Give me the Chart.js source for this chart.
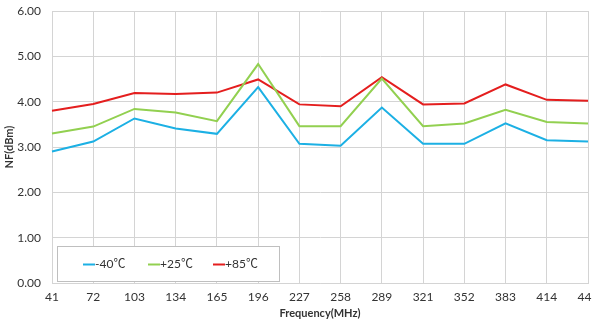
<!DOCTYPE html>
<html>
<head>
<meta charset="utf-8">
<script src="https://cdn.jsdelivr.net/npm/chart.js@4/dist/chart.umd.min.js"></script>
<style>
  html, body { margin: 0; padding: 0; background: #ffffff; }
  #wrap { width: 592px; height: 320px; position: relative; }
</style>
</head>
<body>
<div id="wrap"><canvas id="nf"></canvas></div>
<script>
// Frequency points (MHz)
const frequencies = ['41', '72', '103', '134', '165', '196', '227', '258', '289', '321', '352', '383', '414', '445'];

// Noise figure per temperature
const nfMinus40 = [2.90, 3.12, 3.63, 3.41, 3.29, 4.32, 3.07, 3.03, 3.87, 3.07, 3.07, 3.52, 3.15, 3.12];
const nfPlus25  = [3.30, 3.45, 3.84, 3.76, 3.57, 4.83, 3.46, 3.46, 4.51, 3.46, 3.52, 3.82, 3.55, 3.52];
const nfPlus85  = [3.80, 3.95, 4.19, 4.17, 4.20, 4.49, 3.94, 3.90, 4.54, 3.94, 3.96, 4.38, 4.04, 4.02];

const seriesLabels = ['-40\u2103', '+25\u2103', '+85\u2103'];
const seriesColors = ['#1cb0e4', '#92d050', '#e41e1e'];

const FONT = 'Lato, "Liberation Sans", sans-serif';
const LEGEND_FONT = '12px Lato, "Noto Sans CJK SC", sans-serif';
const TEXT = '#333333';

// Boxed legend drawn inside the lower-left corner of the plot area
const boxedLegend = {
  id: 'boxedLegend',
  afterDraw(chart) {
    const ctx = chart.ctx;
    const area = chart.chartArea;
    const x0 = area.left + 5, w = 222;
    const y0 = area.bottom - 37, h = 35;
    ctx.save();
    ctx.fillStyle = '#ffffff';
    ctx.fillRect(x0, y0, w, h);
    ctx.strokeStyle = '#bfbfbf';
    ctx.lineWidth = 1;
    ctx.strokeRect(x0 + 0.5, y0 + 0.5, w, h);
    ctx.font = LEGEND_FONT;
    ctx.textBaseline = 'middle';
    const cy = y0 + h / 2 + 1;
    chart.data.datasets.forEach((ds, i) => {
      const sx = x0 + 26 + i * 65;
      ctx.strokeStyle = ds.borderColor;
      ctx.lineWidth = 2;
      ctx.beginPath();
      ctx.moveTo(sx, cy);
      ctx.lineTo(sx + 12, cy);
      ctx.stroke();
      ctx.fillStyle = TEXT;
      ctx.fillText(ds.label, sx + 12, cy);
    });
    ctx.restore();
  }
};

new Chart(document.getElementById('nf'), {
  type: 'line',
  data: {
    labels: frequencies,
    datasets: [nfMinus40, nfPlus25, nfPlus85].map((vals, i) => ({
      label: seriesLabels[i],
      data: vals,
      borderColor: seriesColors[i],
      backgroundColor: seriesColors[i],
      borderWidth: 2,
      pointRadius: 0,
      tension: 0,
      fill: false
    }))
  },
  options: {
    responsive: true,
    maintainAspectRatio: false,
    animation: false,
    layout: { padding: { top: 11, right: 4, left: 0, bottom: 0 } },
    plugins: {
      legend: { display: false },
      tooltip: { enabled: false }
    },
    scales: {
      x: {
        offset: false,
        grid: { color: '#d4d4d4', drawTicks: false, lineWidth: 1 },
        border: { color: '#d4d4d4' },
        ticks: { color: TEXT, font: { family: FONT, size: 12 }, padding: 7, maxRotation: 0, autoSkip: false },
        title: {
          display: true, text: 'Frequency(MHz)', color: TEXT,
          font: { family: FONT, size: 11, weight: 'bold' }, padding: { top: 2, bottom: 0 }
        },
        afterFit(scale) { scale.height = 37; scale.paddingLeft = 0; scale.paddingRight = 0; }
      },
      y: {
        min: 0, max: 6,
        grid: { color: '#d4d4d4', drawTicks: false, lineWidth: 1 },
        border: { color: '#d4d4d4' },
        ticks: {
          stepSize: 1, color: TEXT, font: { family: FONT, size: 12 }, padding: 11,
          callback: v => Number(v).toFixed(2)
        },
        title: {
          display: true, text: 'NF(dBm)', color: TEXT,
          font: { family: FONT, size: 11, weight: 'bold' }, padding: { top: 3, bottom: 0 }
        },
        afterFit(scale) { scale.width = 52; scale.paddingTop = 0; scale.paddingBottom = 0; }
      }
    }
  },
  plugins: [boxedLegend]
});
</script>
</body>
</html>
